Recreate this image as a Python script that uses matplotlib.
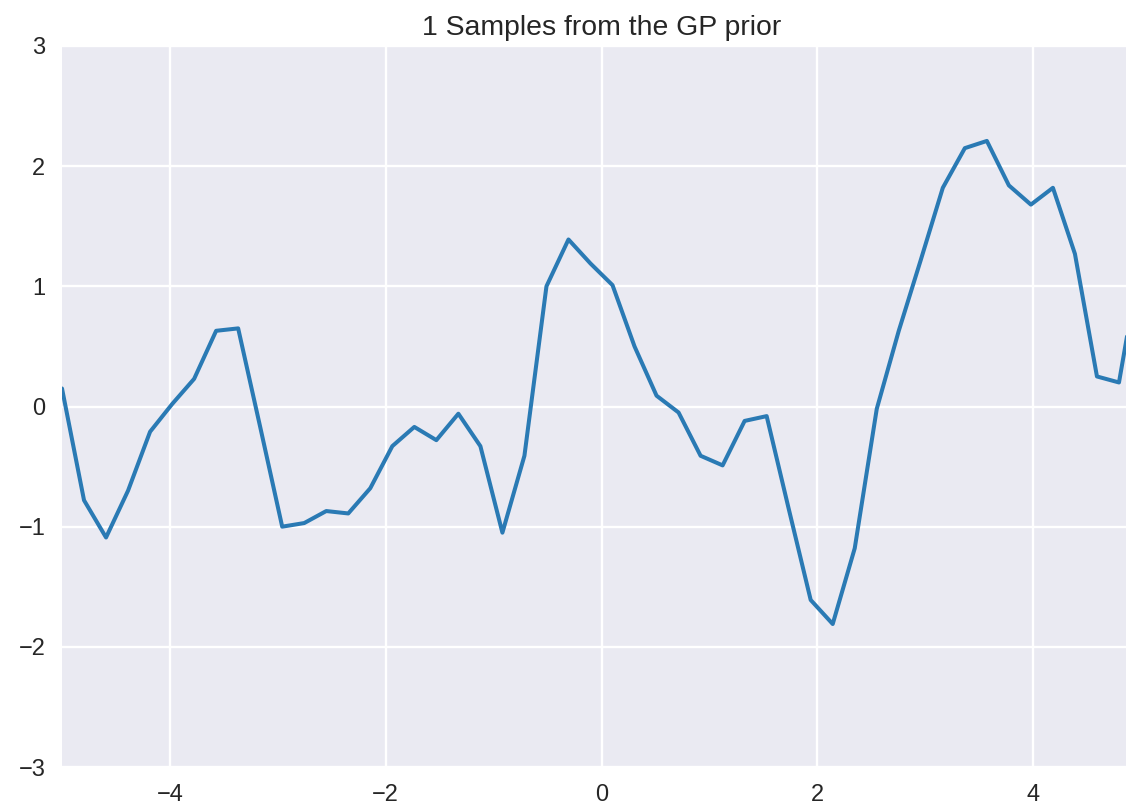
import matplotlib
matplotlib.use("Agg")
import matplotlib.pyplot as plt
import numpy as np
import seaborn as sns

# one sample from the GP prior
n_points = 50
x_min, x_max = -5, 5
sample = [0.15, -0.78, -1.09, -0.70, -0.21, 0.02, 0.23, 0.63, 0.65, -0.17,
          -1.00, -0.97, -0.87, -0.89, -0.68, -0.33, -0.17, -0.28, -0.06, -0.33,
          -1.05, -0.41, 1.00, 1.39, 1.19, 1.01, 0.50, 0.09, -0.05, -0.41,
          -0.49, -0.12, -0.08, -0.85, -1.61, -1.81, -1.18, -0.02, 0.63, 1.22,
          1.82, 2.15, 2.21, 1.84, 1.68, 1.82, 1.27, 0.25, 0.20, 1.25]
y_ticks = [-3, -2, -1, 0, 1, 2, 3]
x_ticks = [-4, -2, 0, 2, 4]

sns.set_style("darkgrid")
plt.rcParams['font.family'] = ['Liberation Sans', 'DejaVu Sans']

x = np.linspace(x_min, x_max, n_points)

fig = plt.figure(figsize=(11.26, 8.09), dpi=100)
# axes runs a bit past the right edge, like the cropped original
ax = fig.add_axes([62 / 1126, 42 / 809, 1079 / 1126, 721 / 809])

ax.plot(x, sample, color='#2a7ab4', linewidth=2.9)

ax.set_xlim(x_min, x_max)
ax.set_ylim(-3, 3)
ax.set_xticks(x_ticks)
ax.set_yticks(y_ticks)
ax.grid(True, color='white', linewidth=1.7)
ax.tick_params(labelsize=17, colors='#262626', length=0, pad=12)
for s in ax.spines.values():
    s.set_visible(False)

ax.set_title('1 Samples from the GP prior', fontsize=20.4, color='#262626', pad=8)

fig.savefig('out.png', dpi=100)
